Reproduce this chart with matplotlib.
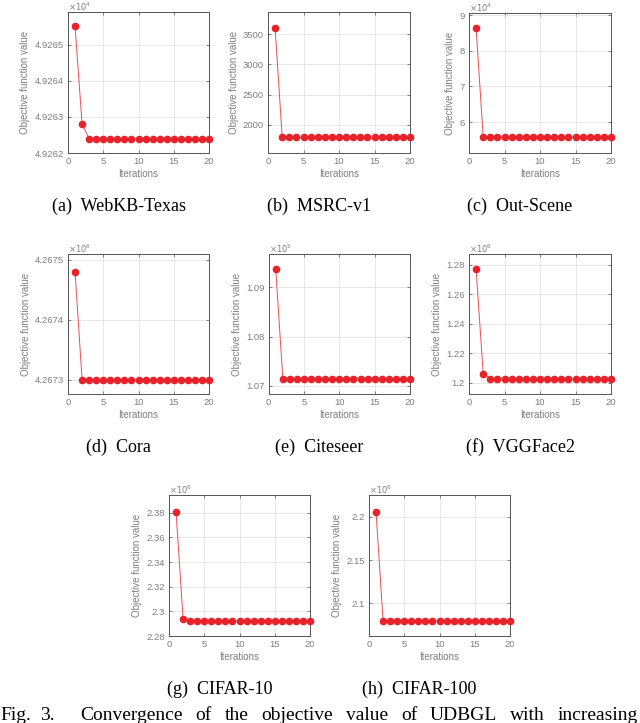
import numpy as np
import matplotlib
matplotlib.use("Agg")
import matplotlib.pyplot as plt

W, H = 640, 723

iters = np.arange(1, 21)

# values shown as mantissa, exponent shown above each axis
names = ["(a)  WebKB-Texas", "(b)  MSRC-v1", "(c)  Out-Scene",
         "(d)  Cora", "(e)  Citeseer", "(f)  VGGFace2",
         "(g)  CIFAR-10", "(h)  CIFAR-100"]
exps = [4, None, 4, 6, 5, 6, 6, 6]

texas = [4.92655, 4.92628] + [4.92624] * 18
msrc = [3610] + [1790] * 19
outscene = [8.64] + [5.58] * 19
cora = [4.26748] + [4.26730] * 19
citeseer = [1.0937] + [1.0714] * 19
vggface = [1.2769, 1.2061] + [1.2027] * 18
cifar10 = [2.3808, 2.2938] + [2.2920] * 18
cifar100 = [2.2054] + [2.0792] * 19
series = [texas, msrc, outscene, cora, citeseer, vggface, cifar10, cifar100]

yticks = [[4.9262, 4.9263, 4.9264, 4.9265],
          [2000, 2500, 3000, 3500],
          [6, 7, 8, 9],
          [4.2673, 4.2674, 4.2675],
          [1.07, 1.08, 1.09],
          [1.2, 1.22, 1.24, 1.26, 1.28],
          [2.28, 2.3, 2.32, 2.34, 2.36, 2.38],
          [2.1, 2.15, 2.2]]
ytick_labels = [["4.9262", "4.9263", "4.9264", "4.9265"],
                ["2000", "2500", "3000", "3500"],
                ["6", "7", "8", "9"],
                ["4.2673", "4.2674", "4.2675"],
                ["1.07", "1.08", "1.09"],
                ["1.2", "1.22", "1.24", "1.26", "1.28"],
                ["2.28", "2.3", "2.32", "2.34", "2.36", "2.38"],
                ["2.1", "2.15", "2.2"]]
ylims = [(4.92620, 4.92659), (1530, 3870), (5.13, 9.06),
         (4.267276, 4.267510), (1.0683, 1.0968), (1.1923, 1.2872),
         (2.28, 2.3944), (2.0622, 2.2251)]

caption_words = ["Fig.", "3.", "Convergence", "of", "the", "objective",
                 "value", "of", "UDBGL", "with", "increasing"]

# axes boxes in pixels: x0, y0 (top), x1, y1 (bottom)
boxes = [(68, 12, 209, 153), (268, 12, 410, 153), (469, 13, 611, 153),
         (68, 254, 209, 394), (268.7, 254, 410, 394), (469, 254, 611, 394),
         (169, 495, 310, 636), (369, 495, 510, 636)]
cap_y = [206, 206, 206, 447, 447, 447, 689, 689]

red = "#e8222a"
tick_gray = "#7f7f7f"
spine_gray = "#555555"
sans = ["Liberation Sans", "DejaVu Sans"]
serif = ["Liberation Serif", "DejaVu Serif"]

fig = plt.figure(figsize=(W / 100, H / 100), dpi=100)

for i in range(8):
    x0, y0, x1, y1 = boxes[i]
    ax = fig.add_axes([x0 / W, 1 - y1 / H, (x1 - x0) / W, (y1 - y0) / H])
    ax.plot(iters, series[i], color=red, lw=0.7, alpha=0.8, zorder=2)
    ax.plot(iters, series[i], "o", color=red, ms=4.5, mec=red, zorder=3,
            clip_on=False)
    ax.set_xlim(0, 20)
    ax.set_ylim(*ylims[i])
    ax.set_xticks([0, 5, 10, 15, 20])
    ax.set_yticks(yticks[i])
    ax.set_yticklabels(ytick_labels[i])
    ax.grid(True, color="#e3e3e3", lw=0.6, zorder=0)
    ax.set_axisbelow(True)
    ax.tick_params(direction="in", length=2, width=0.5, colors=spine_gray,
                   labelcolor=tick_gray, labelsize=6.8, top=True, right=True,
                   pad=3)
    for lab in ax.get_xticklabels() + ax.get_yticklabels():
        lab.set_family(sans)
    for s in ax.spines.values():
        s.set_color(spine_gray)
        s.set_linewidth(0.7)
    ax.set_xlabel("Iterations", fontsize=7, color=tick_gray, family=sans,
                  labelpad=2)
    ax.set_ylabel("Objective function value", fontsize=7, color=tick_gray,
                  family=sans, labelpad=3)
    if exps[i] is not None:
        ax.text(0.0, 0.995, r"$\times 10^{%d}$" % exps[i], transform=ax.transAxes,
                fontsize=6, color=tick_gray, ha="left", va="bottom",
                family=sans)
    cx = (x0 + x1) / 2 - 20
    fig.text(cx / W, 1 - cap_y[i] / H, names[i], fontsize=13, family=serif,
             ha="center", va="center", color="black")

# justified figure caption along the bottom edge (cut off like the source)
renderer = fig.canvas.get_renderer()
word_artists = []
widths = []
for w in caption_words:
    t = fig.text(0, 1 - 720 / H, w, fontsize=14, family=serif,
                 ha="left", va="baseline", color="black")
    word_artists.append(t)
    widths.append(t.get_window_extent(renderer).width)
gap_units = [0.7, 2.0] + [1.0] * (len(caption_words) - 3)
free = 638 - sum(widths)
unit = free / sum(gap_units)
x = 0.0
for k, t in enumerate(word_artists):
    t.set_x(x / W)
    if k < len(gap_units):
        x += widths[k] + gap_units[k] * unit

fig.savefig("out.png", dpi=100)
